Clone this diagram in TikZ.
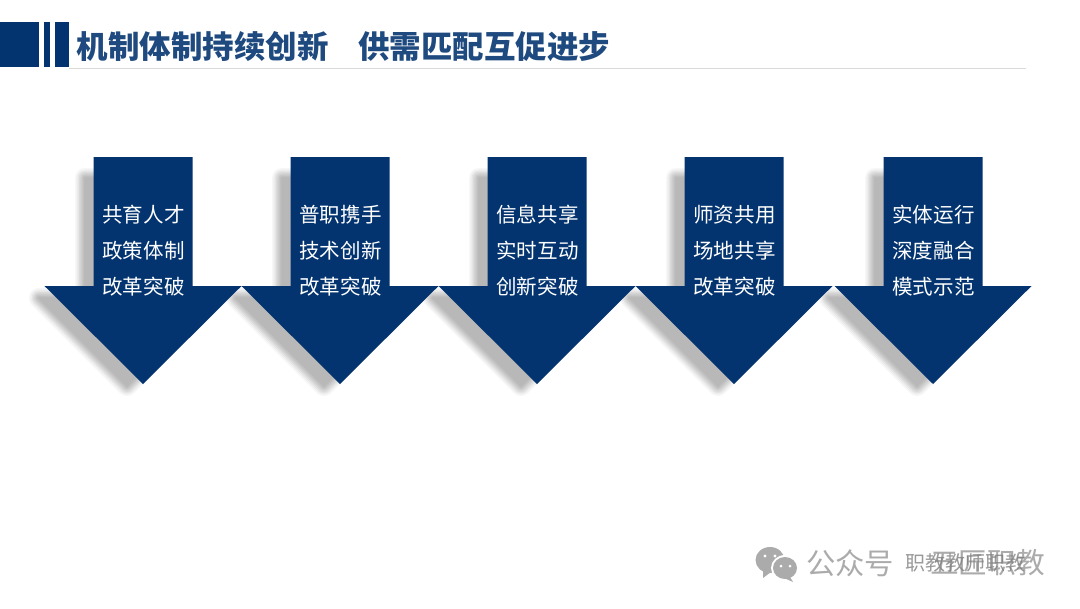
\documentclass[tikz,border=0pt]{standalone}
\usepackage{fontspec}
\newfontfamily\cjk{Noto Sans CJK SC}
\definecolor{navy}{HTML}{03346F}
\definecolor{titleblue}{HTML}{1F4A7F}
\definecolor{markgray}{HTML}{ABABAB}
\tikzset{
    arrowtext/.style={text=white,font=\cjk\fontsize{15.4}{15.4}\selectfont,inner sep=0pt},
    marktext/.style={anchor=west,inner sep=0pt,text=markgray},
}
\begin{document}
\begin{tikzpicture}[font=\cjk]
\begin{scope}[x=0.75pt,y=-0.75pt]
    \useasboundingbox (0,0) rectangle (1080,608);
    \fill[white] (0,0) rectangle (1080,608);

    %
    \fill[navy] (0,22) rectangle (39,67);
    \fill[navy] (44,22) rectangle (50,67);
    \fill[navy] (55,22) rectangle (69,67);
    \draw[black!15,line width=0.8pt] (69,68.2)--(1026,68.2);
    \node[anchor=west,inner sep=0pt,text=titleblue,font=\cjk\bfseries\fontsize{23.6}{23.6}\selectfont] (title) at (76.5,46.5) {机制体制持续创新\hspace{0.95em}供需匹配互促进步};

    %
    \foreach \tipx in {143,340,537,734,933}{
        \foreach \w/\c in {15/3,13/6,11/10,9/14,7/18,5/22,3/25,1/28}{
            \filldraw[draw=black!\c,fill=black!\c,line join=round,line width=\w pt,shift={(\tipx-16,397)}] (-42,-219)--(42,-219)--(42,-99)--(88,-99)--(0,-11)--(-88,-99)--(-42,-99)--cycle;
        }
    }

    %
    \foreach \tipx/\one/\two/\three/\name in {
        143/共育人才/政策体制/改革突破/a,
        340/普职携手/技术创新/改革突破/b,
        537/信息共享/实时互动/创新突破/c,
        734/师资共用/场地共享/改革突破/d,
        933/实体运行/深度融合/模式示范/e}{
        \fill[navy,shift={(\tipx,384)}] (-49.5,-227)--(49.5,-227)--(49.5,-98)--(98.5,-98)--(0,0)--(-98.5,-98)--(-49.5,-98)--cycle;
        \node[arrowtext] (\name1) at (\tipx+0.5,215) {\one};
        \node[arrowtext] (\name2) at (\tipx+0.5,251) {\two};
        \node[arrowtext] (\name3) at (\tipx+0.5,287) {\three};
    }

    %
    \fill[markgray] (770,560) ellipse (14.5 and 13);
    \fill[markgray] (763,571)--(763,578)--(771,572)--cycle;
    \fill[white] (785,568) ellipse (14 and 13);
    \fill[markgray] (785,568) ellipse (12 and 11);
    \fill[markgray] (790,577)--(793,582)--(784,578)--cycle;
    \fill[white] (765,556) circle (1.7);
    \fill[white] (775,556) circle (1.7);
    \fill[white] (781,566) circle (1.5);
    \fill[white] (790,566) circle (1.5);
    \node[marktext,font=\cjk\fontsize{22}{22}\selectfont] (mark) at (806,563) {公众号};
    \node[marktext,font=\cjk\fontsize{21.5}{21.5}\selectfont] (markname) at (930,563) {五匠职教};
    \node[marktext,text=gray,font=\cjk\fontsize{15}{15}\selectfont,opacity=0.8] (markover) at (905,563) {职教教师职教};
\end{scope}
\end{tikzpicture}
\end{document}
